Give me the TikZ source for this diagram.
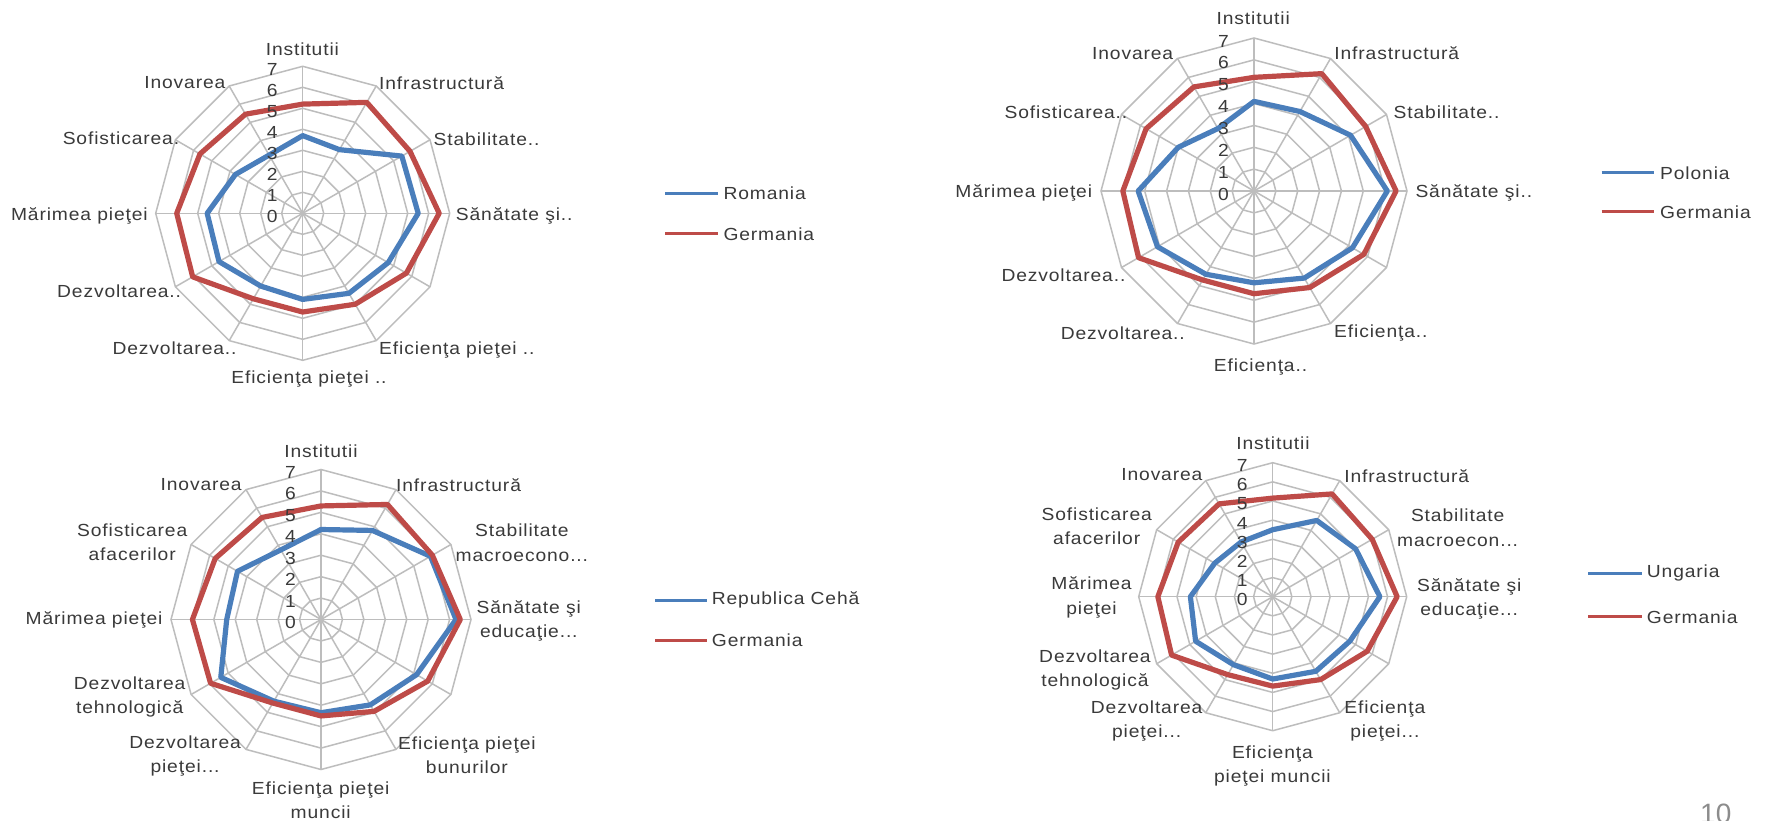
\documentclass[tikz,border=0pt]{standalone}
\usepackage{fontspec}
\setmainfont{Liberation Sans}[FakeStretch=1.1,LetterSpace=5]
\newfontfamily\pagenumfont{Liberation Sans}
\definecolor{textgray}{HTML}{3A3A3A}
\definecolor{gridgray}{HTML}{BDBDBD}
\definecolor{serblue}{HTML}{4A7EBB}
\definecolor{serred}{HTML}{BE4B48}
\definecolor{pagegray}{HTML}{8C8C8C}
\newcommand\labfont{\fontsize{17.5}{24.5}\selectfont}
\tikzset{
  gridline/.style={draw=gridgray,line width=1.5pt},
  blueser/.style={draw=serblue,line width=5.2pt,line join=round},
  redser/.style={draw=serred,line width=5.2pt,line join=round},
  bluelegend/.style={draw=serblue,line width=3pt},
  redlegend/.style={draw=serred,line width=3pt},
  lab/.style={font=\labfont,text=textgray,inner sep=0pt,align=center},
  numlab/.style={font=\labfont,text=textgray,inner sep=0pt,anchor=east},
}
\newcommand\seriesline[3]{\draw[#1] (90:{#2*\unitr}) \foreach \val [count=\idx] in {#3} { -- ({90-30*\idx}:{\val*\unitr}) } -- cycle;}
% #1 cx #2 cy #3 R #4 name #5 b0 #6 brest #7 r0 #8 rrest
\newcommand\radarchart[8]{%
  \begin{scope}[shift={(#1,#2)},yscale=-1]
    \pgfmathsetmacro\unitr{#3/7}
    \coordinate (#4c) at (0,0);
    \foreach \rg in {1,...,7} {\draw[gridline] (90:{\rg*\unitr}) \foreach \sk in {1,...,11} {-- ({90-30*\sk}:{\rg*\unitr})} -- cycle;}
    \foreach \sk in {0,...,11} {\draw[gridline] (#4c) -- ({90-30*\sk}:{7*\unitr});}
    \seriesline{blueser}{#5}{#6}
    \seriesline{redser}{#7}{#8}
    \foreach \rg in {0,...,7} {\node[numlab] (#4n\rg) at (-25,{\rg*\unitr-3}) {\rg};}
  \end{scope}}
\begin{document}
\begin{tikzpicture}[x=1pt,y=-1pt]
\useasboundingbox (0,0) rectangle (1766,820);
\fill[white] (0,0) rectangle (1766,820);

% ---------- chart 1: Romania ----------
\radarchart{302.7}{213.3}{147}{ra}{3.7}{3.5,5.45,5.5,4.7,4.4,4.1,4.0,4.6,4.55,3.7,3.2}{5.2}{6.1,5.9,6.5,5.7,5.0,4.7,4.7,6.05,6.0,5.65,5.45}
\node[lab] (a1) at (302.4,49) {Institutii};
\node[lab,anchor=west] (a2) at (379,82.7) {Infrastructură};
\node[lab,anchor=west] (a3) at (433.5,139.3) {Stabilitate..};
\node[lab,anchor=west] (a4) at (455.7,215.7) {Sănătate şi..};
\node[lab,anchor=west] (a5) at (379,350) {Eficienţa pieţei ..};
\node[lab] (a6) at (309,379.3) {Eficienţa pieţei ..};
\node[lab,anchor=east] (a7) at (236.7,348.3) {Dezvoltarea..};
\node[lab,anchor=east] (a8) at (181.3,291.7) {Dezvoltarea..};
\node[lab,anchor=east] (a9) at (148,215.7) {Mărimea pieţei};
\node[lab,anchor=east] (a10) at (179.4,138.3) {Sofisticarea.};
\node[lab,anchor=east] (a11) at (225.6,82.7) {Inovarea};
\coordinate (la1) at (665,193.3); \coordinate (la2) at (718.3,193.3);
\coordinate (la3) at (665,233.3); \coordinate (la4) at (718.3,233.3);
\draw[bluelegend] (la1) -- (la2);
\draw[redlegend] (la3) -- (la4);
\node[lab,anchor=west] (lta) at (723.3,193.3) {Romania};
\node[lab,anchor=west] (ltb) at (723.3,234) {Germania};

% ---------- chart 2: Polonia ----------
\radarchart{1254}{191}{153}{rb}{4.1}{4.2,5.1,6.1,5.2,4.6,4.2,4.4,5.1,5.3,4.0,3.3}{5.2}{6.2,5.9,6.5,5.8,5.1,4.7,4.7,6.1,6.0,5.7,5.5}
\node[lab] (b1) at (1253.2,18.3) {Institutii};
\node[lab,anchor=west] (b2) at (1334.2,53.3) {Infrastructură};
\node[lab,anchor=west] (b3) at (1393.5,112.7) {Stabilitate..};
\node[lab,anchor=west] (b4) at (1415.3,193.3) {Sănătate şi..};
\node[lab,anchor=west] (b5) at (1334,333) {Eficienţa..};
\node[lab] (b6) at (1260.5,366.7) {Eficienţa..};
\node[lab,anchor=east] (b7) at (1185,333) {Dezvoltarea..};
\node[lab,anchor=east] (b8) at (1125.6,275) {Dezvoltarea..};
\node[lab,anchor=east] (b9) at (1092.3,193.3) {Mărimea pieţei};
\node[lab,anchor=east] (b10) at (1127.5,112.7) {Sofisticarea..};
\node[lab,anchor=east] (b11) at (1173.4,53.3) {Inovarea};
\coordinate (lb1) at (1601.7,172.7); \coordinate (lb2) at (1654,172.7);
\coordinate (lb3) at (1601.7,211.7); \coordinate (lb4) at (1654,211.7);
\draw[bluelegend] (lb1) -- (lb2);
\draw[redlegend] (lb3) -- (lb4);
\node[lab,anchor=west] (ltc) at (1660,173) {Polonia};
\node[lab,anchor=west] (ltd) at (1660,212) {Germania};

% ---------- chart 3: Republica Ceha ----------
\radarchart{321}{619.5}{150}{rc}{4.2}{4.8,5.9,6.3,5.15,4.6,4.35,4.4,5.4,4.4,4.5,3.75}{5.3}{6.2,6.0,6.5,5.75,4.95,4.5,4.5,5.95,6.0,5.7,5.5}
\node[lab] (c1) at (321,451.7) {Institutii};
\node[lab,anchor=west] (c2) at (396,485) {Infrastructură};
\node[lab,anchor=west] (c3) at (455.4,542.5) {Stabilitate\\macroecono...};
\node[lab,anchor=west] (c4) at (476.5,621) {Sănătate şi\\educaţie...};
\node[lab,anchor=west] (c5) at (398,755.3) {Eficienţa pieţei\\bunurilor};
\node[lab] (c6) at (320.7,800) {Eficienţa pieţei\\muncii};
\node[lab,anchor=east] (c7) at (241,755.8) {Dezvoltarea\\pieţei...};
\node[lab,anchor=east] (c8) at (185.6,697) {Dezvoltarea\\tehnologică};
\node[lab,anchor=east] (c9) at (162.6,620) {Mărimea pieţei};
\node[lab,anchor=east] (c10) at (187.5,542) {Sofisticarea\\afacerilor};
\node[lab,anchor=east] (c11) at (241.9,485) {Inovarea};
\coordinate (lc1) at (655,600); \coordinate (lc2) at (706.7,600);
\coordinate (lc3) at (655,640); \coordinate (lc4) at (706.7,640);
\draw[bluelegend] (lc1) -- (lc2);
\draw[redlegend] (lc3) -- (lc4);
\node[lab,anchor=west] (lte) at (711.7,600) {Republica Cehă};
\node[lab,anchor=west] (ltf) at (711.7,640) {Germania};

% ---------- chart 4: Ungaria ----------
\radarchart{1272.7}{596.7}{134}{rd}{3.5}{4.6,5.0,5.6,4.65,4.5,4.3,4.1,4.65,4.3,3.5,3.3}{5.15}{6.2,6.0,6.5,5.7,5.0,4.67,4.7,6.1,6.0,5.7,5.6}
\node[lab] (d1) at (1273,443.3) {Institutii};
\node[lab,anchor=west] (d2) at (1344.2,476) {Infrastructură};
\node[lab,anchor=west] (d3) at (1397,527.5) {Stabilitate\\macroecon...};
\node[lab,anchor=west] (d4) at (1416.9,598.7) {Sănătate şi\\educaţie...};
\node[lab,anchor=west] (d5) at (1344.2,720.8) {Eficienţa\\pieţei...};
\node[lab] (d6) at (1272.4,765.8) {Eficienţa\\pieţei muncii};
\node[lab,anchor=east] (d7) at (1202.6,720.8) {Dezvoltarea\\pieţei...};
\node[lab,anchor=east] (d8) at (1150.9,670) {Dezvoltarea\\tehnologică};
\node[lab,anchor=east] (d9) at (1131.8,597.5) {Mărimea\\pieţei};
\node[lab,anchor=east] (d10) at (1152,526.2) {Sofisticarea\\afacerilor};
\node[lab,anchor=east] (d11) at (1202.6,475) {Inovarea};
\coordinate (ld1) at (1588.3,573.3); \coordinate (ld2) at (1641.7,573.3);
\coordinate (ld3) at (1588.3,616.7); \coordinate (ld4) at (1641.7,616.7);
\draw[bluelegend] (ld1) -- (ld2);
\draw[redlegend] (ld3) -- (ld4);
\node[lab,anchor=west] (ltg) at (1646.7,573.3) {Ungaria};
\node[lab,anchor=west] (lth) at (1646.7,617) {Germania};

% ---------- page number ----------
\node[font=\pagenumfont\fontsize{28}{30}\selectfont,text=pagegray,anchor=base west,inner sep=0pt] (pg) at (1700,823.6) {10};
\end{tikzpicture}
\end{document}
